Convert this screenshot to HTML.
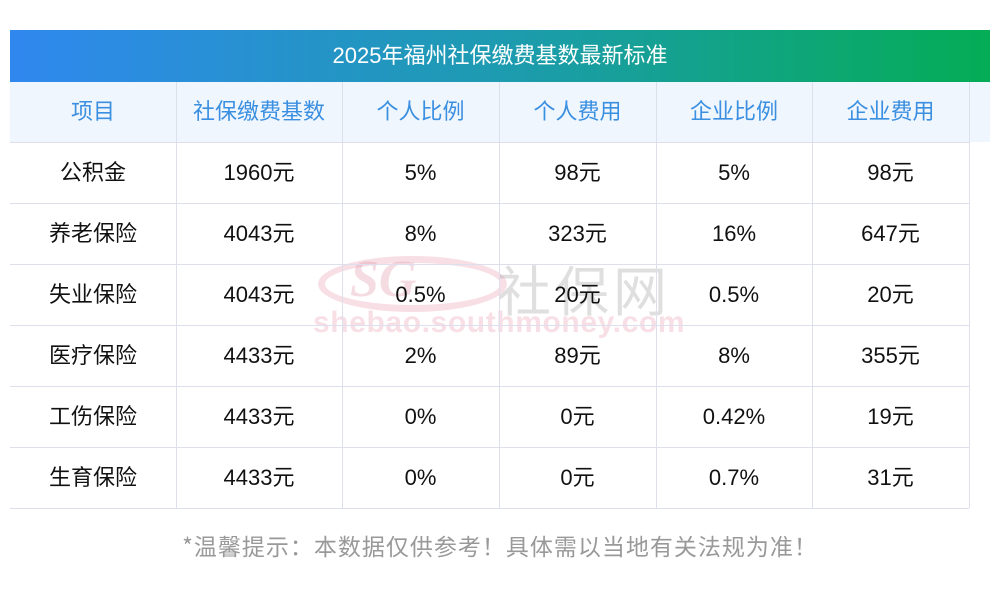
<!DOCTYPE html>
<html><head><meta charset="utf-8"><style>
body{margin:0;width:1000px;height:612px;background:#fff;position:relative;overflow:hidden;font-family:"Liberation Sans","Noto Sans CJK SC",sans-serif}
.title{position:absolute;left:10px;top:30px;width:980px;height:52px;background:linear-gradient(90deg,#3088ef,#1d9bb0 50%,#04ad55);color:#fff;font-size:22px;line-height:52px;text-align:center}
.hdr{position:absolute;left:10px;top:82px;width:980px;height:60px;background:#f0f6fe}
.c{position:absolute;text-align:center;font-size:22px;color:#111}
.h{color:#3a8fe0;font-size:22px}
.vl{position:absolute;width:1px;background:#dde0ec}
.hl{position:absolute;height:1px;background:#dde0ec;left:10px;width:959px}
.wm{position:absolute}
</style></head><body>
<div class="title">2025年福州社保缴费基数最新标准</div>
<div class="hdr"></div>
<div class="wm" style="left:318px;top:256px;width:175px;height:42px;border-radius:50%;border:7px solid rgba(230,150,170,.3)"></div>
<div class="wm" style="left:350px;top:250px;font-size:52px;font-style:italic;font-weight:bold;color:rgba(220,140,160,.3);font-family:'Liberation Serif',serif">SG</div>
<div class="wm" style="left:497px;top:248px;font-size:54px;color:rgba(150,150,150,.3);letter-spacing:4px">社保网</div>
<div class="wm" style="left:313px;top:306px;font-size:30px;font-weight:bold;color:rgba(230,150,170,.3);letter-spacing:.6px">shebao.southmoney.com</div>
<div id="t"></div>
<div style="position:absolute;left:0;width:1000px;top:528px;text-align:center;font-size:23px;color:#999;letter-spacing:1px;font-family:'Noto Sans CJK SC',sans-serif">*温馨提示：本数据仅供参考！具体需以当地有关法规为准！</div>
<script>
var xs=[10,176,342,499,656,812,969];
var rows=[["项目","社保缴费基数","个人比例","个人费用","企业比例","企业费用"],
["公积金","1960元","5%","98元","5%","98元"],
["养老保险","4043元","8%","323元","16%","647元"],
["失业保险","4043元","0.5%","20元","0.5%","20元"],
["医疗保险","4433元","2%","89元","8%","355元"],
["工伤保险","4433元","0%","0元","0.42%","19元"],
["生育保险","4433元","0%","0元","0.7%","31元"]];
var ys=[82,142,203,264,325,386,447,508];
var h="";
for(var r=0;r<7;r++){for(var c=0;c<6;c++){
h+='<div class="c'+(r==0?' h':'')+'" style="left:'+xs[c]+'px;width:'+(xs[c+1]-xs[c])+'px;top:'+ys[r]+'px;height:'+(ys[r+1]-ys[r])+'px;line-height:'+(ys[r+1]-ys[r])+'px">'+rows[r][c]+'</div>';}}
for(var i=1;i<7;i++)h+='<div class="vl" style="left:'+xs[i]+'px;top:82px;height:426px"></div>';
for(var j=1;j<8;j++)h+='<div class="hl" style="top:'+ys[j]+'px"></div>';
document.getElementById("t").innerHTML=h;
</script>
</body></html>
